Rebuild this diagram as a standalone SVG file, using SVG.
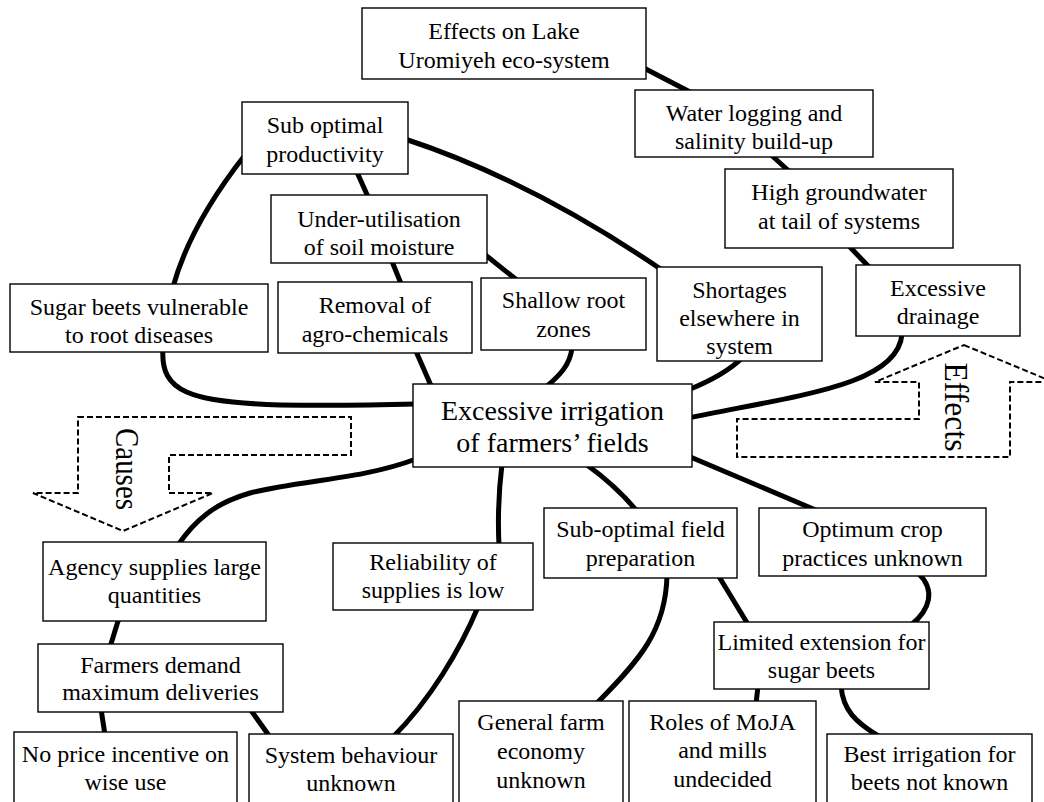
<svg xmlns="http://www.w3.org/2000/svg" width="1044" height="802" viewBox="0 0 1044 802">
<style>
.bg{fill:#fff}
.box{fill:#fff;stroke:#000;stroke-width:1.4}
.t{font-family:"Liberation Serif","Times New Roman",serif;font-size:24px;fill:#000;text-anchor:middle}
.big{font-size:28px}
.c{fill:none;stroke:#000;stroke-width:5}
.d{fill:none;stroke:#000;stroke-width:2;stroke-dasharray:6 3}
.v{font-family:"Liberation Serif","Times New Roman",serif;font-size:33px;fill:#000;text-anchor:middle}
</style>
<rect class="bg" x="0" y="0" width="1044" height="802"/>
<g id="causes-arrow">
<polygon class="d" points="78,417 351,417 351,455 169,455 169,493 213,493 123,531 33,493 78,493"/>
<text class="v" transform="translate(116,469) rotate(90)" textLength="82" lengthAdjust="spacingAndGlyphs">Causes</text>
</g>
<g id="effects-arrow">
<polygon class="d" points="964,345 1053,382 1010,382 1010,457 737,457 737,419 919,419 919,382 875,382"/>
<text class="v" transform="translate(945,407) rotate(90)" textLength="89" lengthAdjust="spacingAndGlyphs">Effects</text>
</g>
<g id="connectors">
<path class="c" d="M 640 66 L 692 93"/>
<path class="c" d="M 770 154 L 790 172"/>
<path class="c" d="M 848 245 L 870 268"/>
<path class="c" d="M 902 334 C 898 385, 800 395, 688 418"/>
<path class="c" d="M 742 358 Q 725 375 688 390"/>
<path class="c" d="M 405 139 Q 530 180 662 270"/>
<path class="c" d="M 356 170 L 369 199"/>
<path class="c" d="M 483 253 L 518 281"/>
<path class="c" d="M 391 259 L 402 286"/>
<path class="c" d="M 415 349 L 432 388"/>
<path class="c" d="M 572 348 C 570 365, 560 375, 546 387"/>
<path class="c" d="M 245 155 Q 190 225 173 287"/>
<path class="c" d="M 163 349 C 160 392, 190 402, 280 405 C 340 406, 380 405, 416 404"/>
<path class="c" d="M 416 459 C 360 480, 300 480, 250 493 C 215 503, 195 520, 178 545"/>
<path class="c" d="M 502 464 Q 497 505 499 546"/>
<path class="c" d="M 478 607 C 460 650, 430 700, 393 737"/>
<path class="c" d="M 119 618 L 110 647"/>
<path class="c" d="M 101 709 L 105 735"/>
<path class="c" d="M 250 709 L 270 737"/>
<path class="c" d="M 587 465 Q 615 485 637 511"/>
<path class="c" d="M 688 456 L 818 511"/>
<path class="c" d="M 667 575 C 666 630, 640 660, 596 704"/>
<path class="c" d="M 718 575 L 749 626"/>
<path class="c" d="M 918 573 C 936 590, 930 610, 911 625"/>
<path class="c" d="M 758 686 L 756 704"/>
<path class="c" d="M 841 686 C 843 710, 855 722, 880 737"/>
</g>
<g id="n-lake"><rect class="box" x="362" y="8" width="284" height="71"/><text class="t" x="504" y="39">Effects on Lake</text><text class="t" x="504" y="68">Uromiyeh eco-system</text></g>
<g id="n-subopt"><rect class="box" x="242" y="102" width="166" height="72"/><text class="t" x="325" y="133">Sub optimal</text><text class="t" x="325" y="162">productivity</text></g>
<g id="n-water"><rect class="box" x="635" y="90" width="238" height="67"/><text class="t" x="754" y="121">Water logging and</text><text class="t" x="754" y="149">salinity build-up</text></g>
<g id="n-highgw"><rect class="box" x="725" y="169" width="228" height="79"/><text class="t" x="839" y="200">High groundwater</text><text class="t" x="839" y="229">at tail of systems</text></g>
<g id="n-under"><rect class="box" x="271" y="195" width="216" height="68"/><text class="t" x="379" y="227">Under-utilisation</text><text class="t" x="379" y="255">of soil moisture</text></g>
<g id="n-sugar"><rect class="box" x="10" y="284" width="258" height="68"/><text class="t" x="139" y="315">Sugar beets vulnerable</text><text class="t" x="139" y="343">to root diseases</text></g>
<g id="n-removal"><rect class="box" x="278" y="282" width="194" height="71"/><text class="t" x="375" y="313">Removal of</text><text class="t" x="375" y="342">agro-chemicals</text></g>
<g id="n-shallow"><rect class="box" x="481" y="278" width="165" height="72"/><text class="t" x="563.5" y="308">Shallow root</text><text class="t" x="563.5" y="337">zones</text></g>
<g id="n-shortages"><rect class="box" x="657" y="267" width="165" height="94"/><text class="t" x="739.5" y="298">Shortages</text><text class="t" x="739.5" y="326">elsewhere in</text><text class="t" x="739.5" y="354">system</text></g>
<g id="n-drainage"><rect class="box" x="856" y="265" width="164" height="71"/><text class="t" x="938" y="296">Excessive</text><text class="t" x="938" y="324">drainage</text></g>
<g id="n-central"><rect class="box" x="413" y="384" width="279" height="83"/><text class="t big" x="552.5" y="420">Excessive irrigation</text><text class="t big" x="552.5" y="452">of farmers’ fields</text></g>
<g id="n-agency"><rect class="box" x="43" y="542" width="223" height="79"/><text class="t" x="154.5" y="575">Agency supplies large</text><text class="t" x="154.5" y="603">quantities</text></g>
<g id="n-reliab"><rect class="box" x="333" y="543" width="200" height="67"/><text class="t" x="433" y="570">Reliability of</text><text class="t" x="433" y="598">supplies is low</text></g>
<g id="n-subfield"><rect class="box" x="544" y="508" width="193" height="70"/><text class="t" x="640.5" y="537">Sub-optimal field</text><text class="t" x="640.5" y="566">preparation</text></g>
<g id="n-optimum"><rect class="box" x="759" y="508" width="227" height="68"/><text class="t" x="872.5" y="537">Optimum crop</text><text class="t" x="872.5" y="566">practices unknown</text></g>
<g id="n-farmers"><rect class="box" x="38" y="644" width="245" height="68"/><text class="t" x="160.5" y="673">Farmers demand</text><text class="t" x="160.5" y="700">maximum deliveries</text></g>
<g id="n-limited"><rect class="box" x="714" y="622" width="215" height="67"/><text class="t" x="821.5" y="650">Limited extension for</text><text class="t" x="821.5" y="678">sugar beets</text></g>
<g id="n-noprice"><rect class="box" x="14" y="732" width="223" height="75"/><text class="t" x="125.5" y="762">No price incentive on</text><text class="t" x="125.5" y="790">wise use</text></g>
<g id="n-sysbeh"><rect class="box" x="249" y="734" width="204" height="73"/><text class="t" x="351" y="763">System behaviour</text><text class="t" x="351" y="791">unknown</text></g>
<g id="n-general"><rect class="box" x="459" y="701" width="164" height="106"/><text class="t" x="541" y="730">General farm</text><text class="t" x="541" y="759">economy</text><text class="t" x="541" y="788">unknown</text></g>
<g id="n-roles"><rect class="box" x="629" y="701" width="187" height="106"/><text class="t" x="722.5" y="730">Roles of MoJA</text><text class="t" x="722.5" y="758">and mills</text><text class="t" x="722.5" y="787">undecided</text></g>
<g id="n-best"><rect class="box" x="827" y="734" width="205" height="73"/><text class="t" x="929.5" y="762">Best irrigation for</text><text class="t" x="929.5" y="790">beets not known</text></g>
</svg>
